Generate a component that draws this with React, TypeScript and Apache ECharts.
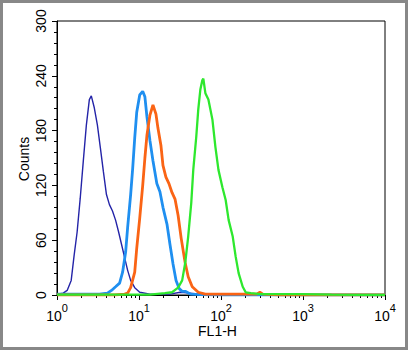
import React, { useEffect, useRef } from "react";
import * as echarts from "echarts";

// axis ticks
const decades = [0, 1, 2, 3, 4];
const minorSteps = [2, 3, 4, 5, 6, 7, 8, 9];
const yTicks = [0, 60, 120, 180, 240, 300];

// FL1-H histogram, sample 1 (dark blue)
const navyFL = [1.0, 1.19, 1.33, 1.49, 1.62, 1.76, 1.92, 2.09, 2.28, 2.48, 2.62, 2.85, 3.11, 3.38, 3.68, 4.01, 4.36, 4.75, 5.18, 5.64, 6.14, 6.68, 7.27, 7.91, 8.87, 10.2, 13.6, 23.9, 31.8, 42.2, 56, 131, 10000];
const navyCounts = [1, 2, 5, 16, 44, 69, 106, 146, 186, 214, 218, 205, 186, 161, 135, 110, 99, 92, 82, 69, 55, 41, 27, 16, 8, 3, 1, 1, 3, 2, 1, 0, 0];

// sample 2 (light blue)
const lightFL = [1.0, 2.0, 3.29, 4.12, 4.62, 5.18, 5.80, 6.31, 6.87, 7.27, 7.91, 8.38, 8.87, 9.38, 10.2, 11.1, 11.8, 12.5, 13.6, 14.8, 16.5, 18.0, 19.6, 22.0, 23.9, 26.0, 28.3, 30.9, 33.6, 36.6, 42.2, 56.0, 98.6, 10000];
const lightCounts = [1, 1, 1, 2, 5, 9, 13, 25, 47, 74, 110, 139, 172, 200, 219, 223, 217, 195, 169, 147, 122, 113, 96, 77, 55, 34, 16, 7, 4, 4, 1, 0.5, 0, 0];

// sample 3 (orange)
const orangeFL = [1.0, 5.03, 6.68, 7.27, 7.91, 8.87, 9.38, 10.2, 11.1, 11.8, 12.5, 13.6, 14.8, 16.1, 17.0, 18.5, 19.6, 21.3, 23.2, 25.3, 27.5, 30.0, 32.7, 36.6, 39.8, 44.6, 52.8, 64.5, 131, 273, 298, 324, 540, 10000];
const orangeCounts = [0, 0, 1, 2, 8, 25, 51, 84, 120, 150, 175, 197, 208, 198, 183, 164, 142, 129, 122, 112, 105, 87, 62, 35, 20, 9, 3, 1, 1, 1, 3, 1, 0, 0];

// sample 4 (green)
const greenFL = [1.0, 13.6, 20.7, 25.3, 30.0, 33.6, 36.6, 39.8, 43.4, 45.9, 49.9, 52.8, 56.0, 59.2, 60.9, 64.5, 70.2, 78.6, 85.5, 93.1, 104, 114, 124, 139, 151, 164, 184, 200, 231, 306, 951, 2228, 10000];
const greenCounts = [0.5, 0.5, 2, 3, 8, 16, 35, 64, 101, 137, 173, 203, 225, 235, 237, 221, 214, 192, 162, 137, 118, 104, 82, 64, 42, 24, 9, 3, 2, 1, 1, 0.5, 0];

const FONT = "'Liberation Sans', Arial, Helvetica, sans-serif";

export default function App() {
  const ref = useRef<HTMLDivElement>(null);
  useEffect(() => {
    const chart = echarts.init(ref.current!, null, { renderer: "svg" });
    const minorVals: number[] = [];
    decades.slice(0, -1).forEach((d) => minorSteps.forEach((k) => minorVals.push(d + Math.log10(k))));
    const pair = (xs: number[], ys: number[]) => xs.map((x, i) => [x, ys[i]]);
    const mk = (name: string, xs: number[], ys: number[], color: string, width: number) => ({
      name,
      type: "line",
      xAxisIndex: 0,
      yAxisIndex: 0,
      data: pair(xs, ys),
      showSymbol: false,
      symbol: "none",
      lineStyle: { color, width },
      itemStyle: { color },
    });
    chart.setOption({
      animation: false,
      backgroundColor: "#fff",
      grid: { left: 57, right: 23, top: 21, bottom: 55, show: true, borderColor: "#000", borderWidth: 1, backgroundColor: "transparent" },
      xAxis: [
        {
          type: "log",
          logBase: 10,
          min: 1,
          max: 10000,
          splitNumber: 4,
          axisLine: { show: true, lineStyle: { color: "#000", width: 1 } },
          axisTick: { show: true, length: 5, lineStyle: { color: "#000", width: 1 } },
          splitLine: { show: false },
          axisLabel: {
            margin: 7,
            formatter: (v: number) => `{b|10}{s|${Math.round(Math.log10(v))}}`,
            rich: {
              b: { fontSize: 14, fontFamily: FONT, color: "#000", padding: [7, 0, 0, 0], verticalAlign: "bottom" },
              s: { fontSize: 11, fontFamily: FONT, color: "#000", verticalAlign: "top" },
            },
          },
        },
        {
          type: "value",
          min: 0,
          max: 4,
          position: "bottom",
          axisLine: { show: false },
          axisLabel: { show: false },
          splitLine: { show: false },
          axisTick: { show: true, length: 3, customValues: minorVals, lineStyle: { color: "#000", width: 1 } },
        },
      ],
      yAxis: {
        type: "value",
        min: yTicks[0],
        max: yTicks[yTicks.length - 1],
        interval: 60,
        axisLine: { show: true, lineStyle: { color: "#000", width: 1 } },
        axisTick: { show: true, length: 5, lineStyle: { color: "#000", width: 1 } },
        minorTick: { show: true, splitNumber: 5, length: 3, lineStyle: { color: "#000", width: 1 } },
        splitLine: { show: false },
        axisLabel: { rotate: 90, margin: 9, fontSize: 14, fontFamily: FONT, color: "#000" },
      },
      graphic: [
        { type: "rect", shape: { x: 1.5, y: 1.5, width: 405, height: 347 }, style: { fill: "none", stroke: "#888", lineWidth: 3 }, silent: true },
        { type: "text", x: 23.5, y: 159, rotation: Math.PI / 2, style: { text: "Counts", font: `14px ${FONT}`, fill: "#000", align: "center", verticalAlign: "middle" } },
        { type: "text", x: 217.5, y: 331, style: { text: "FL1-H", font: `14px ${FONT}`, fill: "#000", align: "center", verticalAlign: "middle" } },
      ],
      series: [
        mk("navy", navyFL, navyCounts, "#2424a8", 1.4),
        mk("light", lightFL, lightCounts, "#1f8ff0", 2.8),
        mk("orange", orangeFL, orangeCounts, "#fa6415", 2.8),
        mk("green", greenFL, greenCounts, "#2ee82e", 2.3),
      ],
    });
    return () => chart.dispose();
  }, []);
  return <div ref={ref} style={{ position: "absolute", left: 0, top: 0, width: 408, height: 350, background: "#fff" }} />;
}
